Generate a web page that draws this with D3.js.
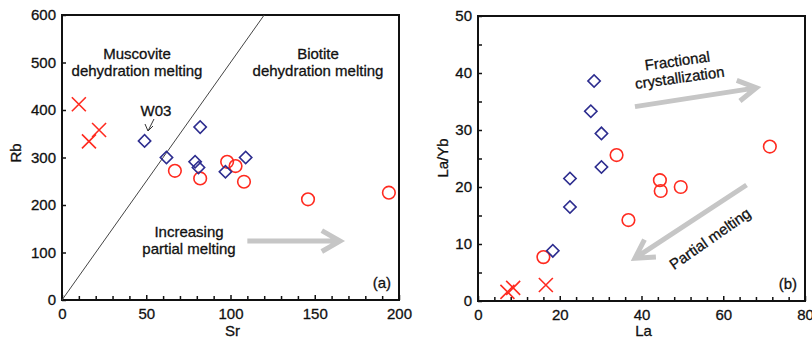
<!DOCTYPE html>
<html>
<head>
<meta charset="utf-8">
<script src="https://cdn.jsdelivr.net/npm/d3@7"></script>
<style>
  body { margin: 0; background: #fff; }
  svg text { font-family: "Liberation Sans", Arial, sans-serif; fill: #111; stroke: #111; stroke-width: 0.3px; }
</style>
</head>
<body>
<svg id="chart" width="812" height="340"></svg>
<script>
// panel (a): Sr vs Rb
let srRbCrosses = [[10, 412], [16, 334], [22, 358]];
let srRbDiamonds = [[49, 335], [62, 300], [82, 364], [79, 291], [81, 279], [97, 270], [109, 300]];
let srRbCircles = [[67, 272], [82, 256], [98, 291], [103, 282], [108, 249], [146, 212], [194, 226]];

// panel (b): La vs La/Yb
let laCrosses = [[7.2, 1.6], [8.6, 2.3], [16.6, 2.8]];
let laDiamonds = [[28.4, 38.6], [27.6, 33.3], [30.2, 29.4], [30.2, 23.5], [22.5, 21.5], [22.5, 16.5], [18.3, 8.8]];
let laCircles = [[16, 7.7], [71.4, 27.1], [33.9, 25.6], [44.5, 21.2], [44.7, 19.3], [49.6, 20], [36.8, 14.2]];

let srTicks = d3.range(0, 201, 10),
    rbTicks = d3.range(0, 601, 100),
    laTicks = d3.range(0, 81, 4),
    laYbTicks = d3.range(0, 51, 5);

const red = '#ff2a1f',
      navy = '#2d2d8f',
      arrowGrey = '#c6c6c6';

let svg = d3.select('#chart');

let drawPanel = function (opt) {
  let g = svg.append('g');
  let x = d3.scaleLinear().domain(opt.xDomain).range([opt.left, opt.right]),
      y = d3.scaleLinear().domain(opt.yDomain).range([opt.bottom, opt.top]);

  let xAxis = d3.axisBottom(x)
    .tickValues(opt.xTicks)
    .tickSize(-4)
    .tickPadding(8)
    .tickFormat(d => d % opt.xMajor === 0 ? d : '');
  let yAxis = d3.axisLeft(y)
    .tickValues(opt.yTicks)
    .tickSize(-4)
    .tickPadding(6)
    .tickFormat(d => d % opt.yMajor === 0 ? d : '');

  let gx = g.append('g').attr('transform', 'translate(0,' + opt.bottom + ')').call(xAxis);
  let gy = g.append('g').attr('transform', 'translate(' + opt.left + ',0)').call(yAxis);
  [gx, gy].forEach(a => {
    a.select('.domain').remove();
    a.selectAll('line').attr('stroke', '#111').attr('stroke-width', 1.5);
    a.selectAll('text').style('font-size', '15px').attr('fill', '#111');
  });
  gx.selectAll('.tick line').attr('y2', d => d % opt.xMajor === 0 ? -5 : -4);

  g.append('rect')
    .attr('x', opt.left).attr('y', opt.top)
    .attr('width', opt.right - opt.left).attr('height', opt.bottom - opt.top)
    .attr('fill', 'none').attr('stroke', '#111').attr('stroke-width', 2);

  g.append('text')
    .attr('x', (opt.left + opt.right) / 2 + 2).attr('y', 336)
    .attr('text-anchor', 'middle').style('font-size', '15px')
    .text(opt.xLabel);
  g.append('text')
    .attr('transform', 'translate(' + opt.yLabelX + ',' + opt.yLabelY + ') rotate(-90)')
    .attr('text-anchor', 'middle').style('font-size', '15px')
    .text(opt.yLabel);

  g.append('text')
    .attr('x', opt.right - 8).attr('y', opt.bottom - 12)
    .attr('text-anchor', 'end').style('font-size', '15px')
    .text(opt.tag);

  return { g: g, x: x, y: y };
}

let drawMarks = function (p, crosses, diamonds, circles) {
  p.g.selectAll('.circ').data(circles).enter().append('circle')
    .attr('cx', d => p.x(d[0])).attr('cy', d => p.y(d[1])).attr('r', 6.3)
    .attr('fill', 'none').attr('stroke', red).attr('stroke-width', 1.6);

  p.g.selectAll('.diam').data(diamonds).enter().append('path')
    .attr('d', d3.symbol(d3.symbolSquare, 76)())
    .attr('transform', d => 'translate(' + p.x(d[0]) + ',' + p.y(d[1]) + ') rotate(45)')
    .attr('fill', 'none').attr('stroke', navy).attr('stroke-width', 1.6);

  p.g.selectAll('.cross').data(crosses).enter().append('path')
    .attr('d', 'M-7,-7L7,7M-7,7L7,-7')
    .attr('transform', d => 'translate(' + p.x(d[0]) + ',' + p.y(d[1]) + ')')
    .attr('fill', 'none').attr('stroke', red).attr('stroke-width', 1.6);
}

// thick grey arrow with an open chevron head
let greyArrow = function (p, from, to) {
  let x1 = p.x(from[0]), y1 = p.y(from[1]),
      x2 = p.x(to[0]), y2 = p.y(to[1]),
      ang = Math.atan2(y2 - y1, x2 - x1),
      head = 21, spread = 0.52;
  let path = d3.path();
  path.moveTo(x1, y1);
  path.lineTo(x2 - 2 * Math.cos(ang), y2 - 2 * Math.sin(ang));
  path.moveTo(x2 - head * Math.cos(ang - spread), y2 - head * Math.sin(ang - spread));
  path.lineTo(x2, y2);
  path.lineTo(x2 - head * Math.cos(ang + spread), y2 - head * Math.sin(ang + spread));
  p.g.append('path').attr('d', path.toString())
    .attr('fill', 'none').attr('stroke', arrowGrey).attr('stroke-width', 5)
    .attr('stroke-linejoin', 'miter');
}

let label = function (p, xPos, yPos, lines, rot) {
  let t = p.g.append('text')
    .attr('transform', 'translate(' + xPos + ',' + yPos + ') rotate(' + (rot || 0) + ')')
    .attr('text-anchor', 'middle').style('font-size', '15px');
  lines.forEach((s, i) => t.append('tspan').attr('x', 0).attr('dy', i === 0 ? 0 : 17).text(s));
}

// panel (a)
let pa = drawPanel({
  left: 62, right: 399, top: 15, bottom: 300,
  xDomain: [0, 200], yDomain: [0, 600],
  xTicks: srTicks, yTicks: rbTicks, xMajor: 50, yMajor: 100,
  xLabel: 'Sr', yLabel: 'Rb', yLabelX: 21, yLabelY: 153, tag: '(a)'
});

pa.g.append('line')
  .attr('x1', pa.x(0)).attr('y1', pa.y(0))
  .attr('x2', pa.x(120)).attr('y2', pa.y(600))
  .attr('stroke', '#444').attr('stroke-width', 1);

drawMarks(pa, srRbCrosses, srRbDiamonds, srRbCircles);

label(pa, 137, 59, ['Muscovite', 'dehydration melting']);
label(pa, 318, 59, ['Biotite', 'dehydration melting']);
label(pa, 189, 237, ['Increasing', 'partial melting']);
greyArrow(pa, [110, 124], [165, 124]);

pa.g.append('text').attr('x', 156).attr('y', 116)
  .attr('text-anchor', 'middle').style('font-size', '15px').text('W03');
pa.g.append('path')
  .attr('d', 'M154,119L148,131M145,124L148,131L153,126')
  .attr('fill', 'none').attr('stroke', '#333').attr('stroke-width', 1);

// panel (b)
let pb = drawPanel({
  left: 478, right: 805, top: 16, bottom: 301,
  xDomain: [0, 80], yDomain: [0, 50],
  xTicks: laTicks, yTicks: laYbTicks, xMajor: 20, yMajor: 10,
  xLabel: 'La', yLabel: 'La/Yb', yLabelX: 448, yLabelY: 158, tag: '(b)'
});

drawMarks(pb, laCrosses, laDiamonds, laCircles);

greyArrow(pb, [38.4, 34.1], [68.1, 37.4]);
greyArrow(pb, [65.7, 20.35], [38.4, 7.5]);
label(pb, 678, 66, ['Fractional', 'crystallization'], -8);
label(pb, 713, 243, ['Partial melting'], -35);
</script>
</body>
</html>
